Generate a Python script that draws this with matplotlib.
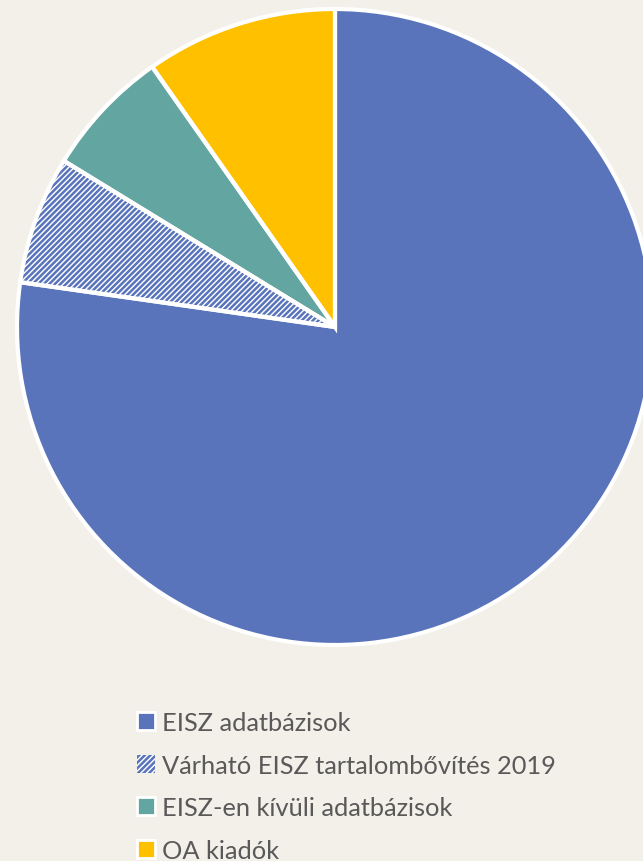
import matplotlib
matplotlib.use('Agg')
import matplotlib.pyplot as plt
from matplotlib.patches import Patch

labels = ['EISZ adatbázisok', 'Várható EISZ tartalombővítés 2019',
          'EISZ-en kívüli adatbázisok', 'OA kiadók']
values = [77.25, 6.5, 6.5, 9.75]
colors = ['#5A74BC', '#FFFFFF', '#63A5A0', '#FFC000']
hatches = [None, '//////', None, None]

bg = '#F3F0E9'
blue = '#5A74BC'

plt.rcParams['hatch.linewidth'] = 1.8

fig = plt.figure(figsize=(6.43, 8.62), dpi=100)
fig.patch.set_facecolor(bg)

# pie axes: centre ~(335,328) px, radius ~318 px
W, H = 643, 862
cx, cy, r = 335, 328, 318
ax = fig.add_axes([(cx - r) / W, (H - cy - r) / H, 2 * r / W, 2 * r / H])

# first pass: fills + hatch (hatch colour follows edgecolor)
wedges, _ = ax.pie(values, colors=colors, startangle=90, counterclock=False,
                   radius=1, wedgeprops=dict(edgecolor=blue, linewidth=0))
for w, h in zip(wedges, hatches):
    if h:
        w.set_hatch(h)
    w.set_linewidth(0)

# second pass: white borders
ax.pie(values, colors=['none'] * 4, startangle=90, counterclock=False,
       radius=1, wedgeprops=dict(edgecolor='white', linewidth=3, fill=False))

# pie() resets limits, so set them afterwards
ax.set_xlim(-1, 1)
ax.set_ylim(-1, 1)
ax.set_aspect('equal')
ax.axis('off')

handles = []
for c, h in zip(colors, hatches):
    if h:
        handles.append(Patch(facecolor='white', edgecolor=blue, hatch='//////', linewidth=0))
    else:
        handles.append(Patch(facecolor=c, edgecolor='white', linewidth=2))

leg = fig.legend(handles, labels, loc='upper left', bbox_to_anchor=(137 / W, 1 - 712 / H),
                 frameon=False, handlelength=0.7, handleheight=0.7,
                 handletextpad=0.3, labelspacing=0.77, borderpad=0, borderaxespad=0,
                 prop={'family': 'Lato', 'size': 18.3})
for t in leg.get_texts():
    t.set_color('#595959')

fig.savefig('out.png', dpi=100, facecolor=bg)
